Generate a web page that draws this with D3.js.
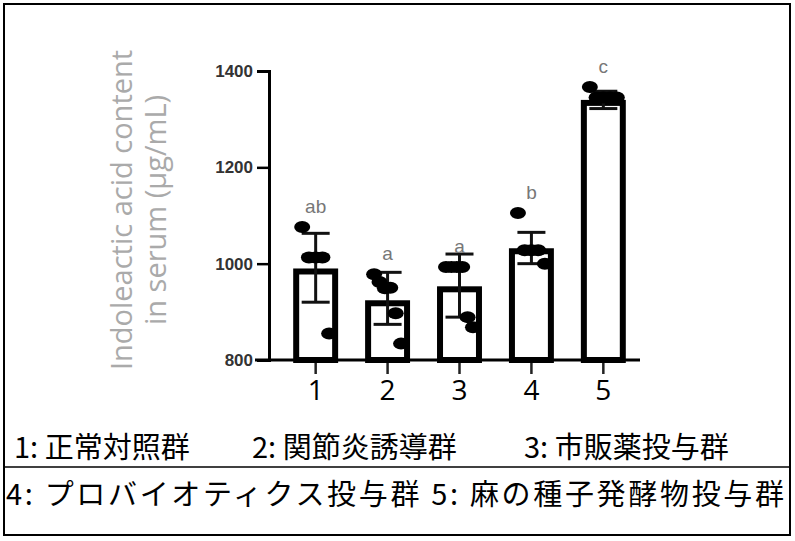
<!DOCTYPE html><html><head><meta charset="utf-8"><script src="https://cdn.jsdelivr.net/npm/d3@7"></script>
<style>body{margin:0;background:#fff}</style></head><body><svg id="c" width="795" height="541"></svg>
<script>
const categories=["1","2","3","4","5"];
const means=[990,924,953,1032,1340];
const errHi=[1063,982,1020,1065,1358];
const errLo=[920,874,889,1000,1322];
const points=[[1076,1013,1013,1013,855],[978,962,949,950,897,834],[993,993,993,993,889,868],[1105,1028,1028,1028,1000],[1367,1345,1345,1345,1345]];
const letters=["ab","a","a","b","c"];
const yTicks=[800,1000,1200,1400];
const svg=d3.select("#c");
svg.append("rect").attr("x",4).attr("y",4).attr("width",786).attr("height",531).attr("fill","none").attr("stroke","#000").attr("stroke-width",2);
const y=d3.scaleLinear().domain([800,1400]).range([360,71]);
const x=d3.scaleBand().domain(categories).range([286,633]).paddingInner(0.375).paddingOuter(0.1);
const ax=svg.append("g").attr("transform","translate(269,0)").call(d3.axisLeft(y).tickValues(yTicks).tickFormat(d3.format("d")).tickSize(12).tickPadding(4));
ax.select(".domain").attr("stroke-width",3);ax.selectAll(".tick line").attr("stroke-width",2.5);
ax.selectAll("text").attr("font-family","Liberation Sans").attr("font-size",17).attr("font-weight","bold").attr("fill","#333");
const bx=svg.append("g").attr("transform","translate(0,360)").call(d3.axisBottom(x).tickSize(14).tickPadding(6));
bx.select(".domain").attr("d","M255,0H640").attr("stroke-width",3);
bx.selectAll(".tick line").attr("stroke-width",2.5).attr("stroke","#222");
bx.selectAll("text").attr("font-family","Open Sans").attr("font-size",28).attr("fill","#000");
const g=svg.append("g");
categories.forEach((c,i)=>{
 const x0=x(c),w=x.bandwidth(),cx=x0+w/2;
 g.append("rect").attr("x",x0+3).attr("y",y(means[i])+3).attr("width",w-6).attr("height",360-y(means[i])-3).attr("fill","#fff").attr("stroke","#000").attr("stroke-width",6);
 g.append("line").attr("x1",cx).attr("x2",cx).attr("y1",y(errHi[i])).attr("y2",y(errLo[i])).attr("stroke","#111").attr("stroke-width",3);
 [errHi[i],errLo[i]].forEach(v=>g.append("line").attr("x1",cx-14).attr("x2",cx+14).attr("y1",y(v)).attr("y2",y(v)).attr("stroke","#111").attr("stroke-width",3));
 const n=points[i].length;
 points[i].forEach((v,j)=>{const off=n>1?(j-(n-1)/2)*(w*0.6/(n-1)):0;
  g.append("ellipse").attr("cx",cx+off).attr("cy",y(v)).attr("rx",8).attr("ry",6).attr("fill","#000");});
 g.append("text").attr("x",cx).attr("y",y(d3.max(points[i]))-14).attr("text-anchor","middle").attr("font-family","Liberation Sans").attr("font-size",19).attr("fill","#777").text(letters[i]);
});
svg.append("text").attr("transform","translate(132,210) rotate(-90)").attr("text-anchor","middle").attr("font-family","Open Sans").attr("font-size",29).attr("fill","#aaa")
 .selectAll("tspan").data(["Indoleactic acid content","in serum (μg/mL)"]).join("tspan").attr("x",0).attr("dy",(d,i)=>i?34:0).text(d=>d);
const leg1=["1: 正常対照群","2: 関節炎誘導群","3: 市販薬投与群"];
const leg1x=[14,252,524];
leg1.forEach((t,i)=>svg.append("text").attr("x",leg1x[i]).attr("y",458).attr("font-family","Noto Sans CJK JP").attr("font-size",29).attr("fill","#000").text(t));
svg.append("text").attr("x",6).attr("y",505).attr("font-family","Noto Sans CJK JP").attr("font-size",29).attr("textLength",778).attr("lengthAdjust","spacing").attr("fill","#000").text("4: プロバイオティクス投与群 5: 麻の種子発酵物投与群");
svg.append("line").attr("x1",4).attr("x2",790).attr("y1",467).attr("y2",467).attr("stroke","#000").attr("stroke-width",1.5);
</script></body></html>
